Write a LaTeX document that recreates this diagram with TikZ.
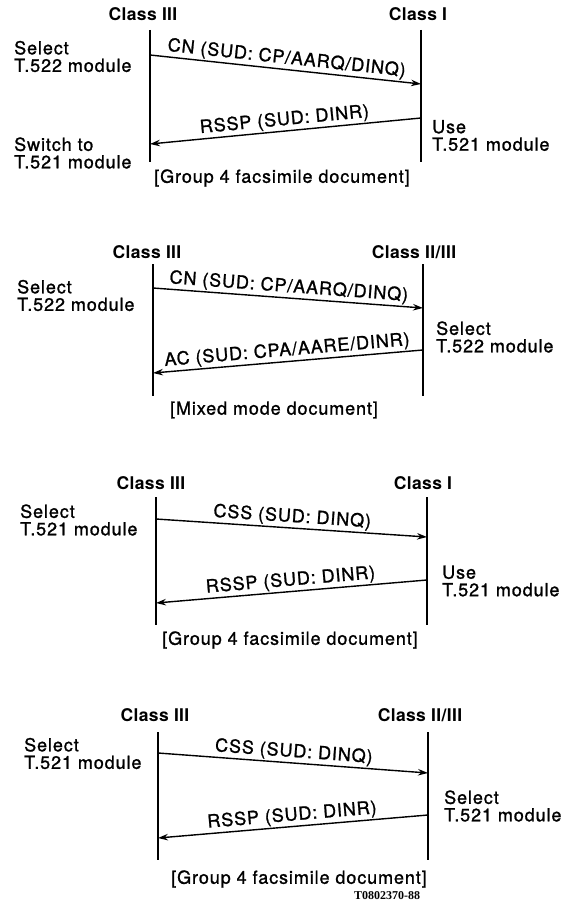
\documentclass[tikz,border=0pt]{standalone}
\usepackage{fontspec}
\setmainfont{TeX Gyre Heros}[LetterSpace=5, FakeBold=1.2]
\newfontfamily\clsfamily{TeX Gyre Heros Bold}[LetterSpace=2]
\newfontfamily\numfont{Liberation Serif Bold}
\usetikzlibrary{arrows.meta}
\begin{document}
\begin{tikzpicture}[x=1pt,y=-1pt,
  txt/.style={font=\fontsize{18}{17.5}\selectfont, inner sep=0pt},
  cls/.style={font=\clsfamily\fontsize{17.5}{17.5}\selectfont, inner sep=0pt},
  side/.style={txt, align=left, anchor=west},
  life/.style={line width=2.3pt},
  msg/.style={line width=1.4pt, -{Stealth[length=10pt,width=6.5pt]}},
  mlbl/.style={txt, midway, above, sloped, inner sep=1.5pt}]
\useasboundingbox (0,0) rectangle (565,912);

% ---------------- Panel 1 ----------------
\node[cls] (p1cl) at (143,14) {Class III};
\node[cls] (p1cr) at (418,14) {Class I};
\coordinate (p1lt) at (150,30); \coordinate (p1lb) at (150,162);
\coordinate (p1rt) at (421,30); \coordinate (p1rb) at (421,162);
\draw[life] (p1lt) -- (p1lb);
\draw[life] (p1rt) -- (p1rb);
\coordinate (p1a1s) at (150,55); \coordinate (p1a1e) at (421,84);
\coordinate (p1a2s) at (421,118); \coordinate (p1a2e) at (150,144);
\draw[msg] (p1a1s) -- node[mlbl] (p1m1) {CN (SUD: CP/AARQ/DINQ)} (p1a1e);
\draw[msg] (p1a2s) -- node[mlbl] (p1m2) {RSSP (SUD: DINR)} (p1a2e);
\node[side] (p1s1) at (14,56.5) {Select\\T.522 module};
\node[side] (p1s2) at (14,153) {Switch to\\T.521 module};
\node[side] (p1s3) at (432,135.5) {Use\\T.521 module};
\node[txt] (p1doc) at (282,178) {[Group 4 facsimile document]};

% ---------------- Panel 2 ----------------
\node[cls] (p2cl) at (147,252) {Class III};
\node[cls] (p2cr) at (414,252) {Class II/III};
\coordinate (p2lt) at (153,264); \coordinate (p2lb) at (153,396);
\coordinate (p2rt) at (423,264); \coordinate (p2rb) at (423,396);
\draw[life] (p2lt) -- (p2lb);
\draw[life] (p2rt) -- (p2rb);
\coordinate (p2a1s) at (153,288); \coordinate (p2a1e) at (423,308);
\coordinate (p2a2s) at (423,350); \coordinate (p2a2e) at (153,373);
\draw[msg] (p2a1s) -- node[mlbl] (p2m1) {CN (SUD: CP/AARQ/DINQ)} (p2a1e);
\draw[msg] (p2a2s) -- node[mlbl] (p2m2) {AC (SUD: CPA/AARE/DINR)} (p2a2e);
\node[side] (p2s1) at (17,295.5) {Select\\T.522 module};
\node[side] (p2s2) at (436,337) {Select\\T.522 module};
\node[txt] (p2doc) at (274,410) {[Mixed mode document]};

% ---------------- Panel 3 ----------------
\node[cls] (p3cl) at (151,483) {Class III};
\node[cls] (p3cr) at (423,483) {Class I};
\coordinate (p3lt) at (156,497); \coordinate (p3lb) at (156,625);
\coordinate (p3rt) at (427,497); \coordinate (p3rb) at (427,625);
\draw[life] (p3lt) -- (p3lb);
\draw[life] (p3rt) -- (p3rb);
\coordinate (p3a1s) at (156,519); \coordinate (p3a1e) at (427,537);
\coordinate (p3a2s) at (427,580); \coordinate (p3a2e) at (156,603);
\draw[msg] (p3a1s) -- node[mlbl] (p3m1) {CSS (SUD: DINQ)} (p3a1e);
\draw[msg] (p3a2s) -- node[mlbl] (p3m2) {RSSP (SUD: DINR)} (p3a2e);
\node[side] (p3s1) at (20,520) {Select\\T.521 module};
\node[side] (p3s2) at (442,581) {Use\\T.521 module};
\node[txt] (p3doc) at (290,640) {[Group 4 facsimile document]};

% ---------------- Panel 4 ----------------
\node[cls] (p4cl) at (155,715) {Class III};
\node[cls] (p4cr) at (420,715) {Class II/III};
\coordinate (p4lt) at (158,732); \coordinate (p4lb) at (158,860);
\coordinate (p4rt) at (428,732); \coordinate (p4rb) at (428,860);
\draw[life] (p4lt) -- (p4lb);
\draw[life] (p4rt) -- (p4rb);
\coordinate (p4a1s) at (158,753); \coordinate (p4a1e) at (428,773);
\coordinate (p4a2s) at (428,815); \coordinate (p4a2e) at (158,838);
\draw[msg] (p4a1s) -- node[mlbl] (p4m1) {CSS (SUD: DINQ)} (p4a1e);
\draw[msg] (p4a2s) -- node[mlbl] (p4m2) {RSSP (SUD: DINR)} (p4a2e);
\node[side] (p4s1) at (24,753.5) {Select\\T.521 module};
\node[side] (p4s2) at (444,806) {Select\\T.521 module};
\node[txt] (p4doc) at (299,879) {[Group 4 facsimile document]};
\node[font=\numfont\fontsize{12}{12}\selectfont, inner sep=0pt] (fig) at (387,896) {T0802370-88};
\end{tikzpicture}
\end{document}
